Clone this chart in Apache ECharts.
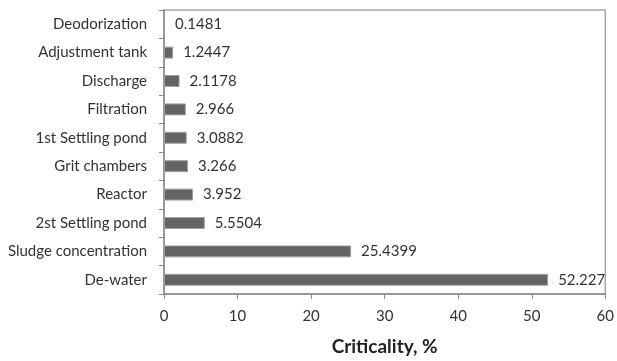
<!DOCTYPE html>
<html>
<head>
<meta charset="utf-8">
<script src="https://cdn.jsdelivr.net/npm/echarts@6/dist/echarts.min.js"></script>
<style>
  html, body { margin: 0; padding: 0; background: #fff; }
  #chart { width: 617px; height: 361px; }
</style>
</head>
<body>
<div id="chart"></div>
<script>
// Process units, listed bottom to top
const units = [
  'De-water', 'Sludge concentration', '2st Settling pond', 'Reactor',
  'Grit chambers', '1st Settling pond', 'Filtration', 'Discharge',
  'Adjustment tank', 'Deodorization'
];
// Criticality of each unit, %
const criticality = [52.227, 25.4399, 5.5504, 3.952, 3.266, 3.0882, 2.966, 2.1178, 1.2447, 0.1481];
const xTicks = [0, 10, 20, 30, 40, 50, 60];

const font = 'Lato, "Open Sans", sans-serif';
const chart = echarts.init(document.getElementById('chart'), null, { renderer: 'canvas' });

chart.setOption({
  animation: false,
  grid: {
    left: 164, right: 6, top: 10, bottom: 60,
    show: true, borderColor: '#a6a6a6', borderWidth: 1.5, backgroundColor: '#fff'
  },
  xAxis: {
    type: 'value',
    min: xTicks[0], max: xTicks[xTicks.length - 1], interval: 10,
    name: 'Criticality, %', nameLocation: 'middle', nameGap: 43,
    nameTextStyle: { fontFamily: font, fontSize: 19, fontWeight: 'bold', color: '#222' },
    axisLine: { show: true, lineStyle: { color: '#8c8c8c', width: 1.5 } },
    axisTick: { show: true, length: 5, lineStyle: { color: '#8c8c8c' } },
    axisLabel: { fontFamily: font, fontSize: 15, color: '#333', margin: 15 },
    splitLine: { show: false }
  },
  yAxis: {
    type: 'category',
    data: units,
    axisLine: { show: true, lineStyle: { color: '#8c8c8c', width: 1.5 } },
    axisTick: { show: true, length: 5, lineStyle: { color: '#8c8c8c' } },
    axisLabel: { fontFamily: font, fontSize: 15, color: '#333', margin: 17 }
  },
  series: [{
    type: 'bar',
    data: criticality,
    barWidth: '42%',
    itemStyle: { color: '#646464', borderColor: '#a0a0a0', borderWidth: 1 },
    label: {
      show: true, position: 'right', distance: 10,
      fontFamily: font, fontSize: 15, color: '#333',
      formatter: p => String(criticality[p.dataIndex])
    }
  }]
});
</script>
</body>
</html>
